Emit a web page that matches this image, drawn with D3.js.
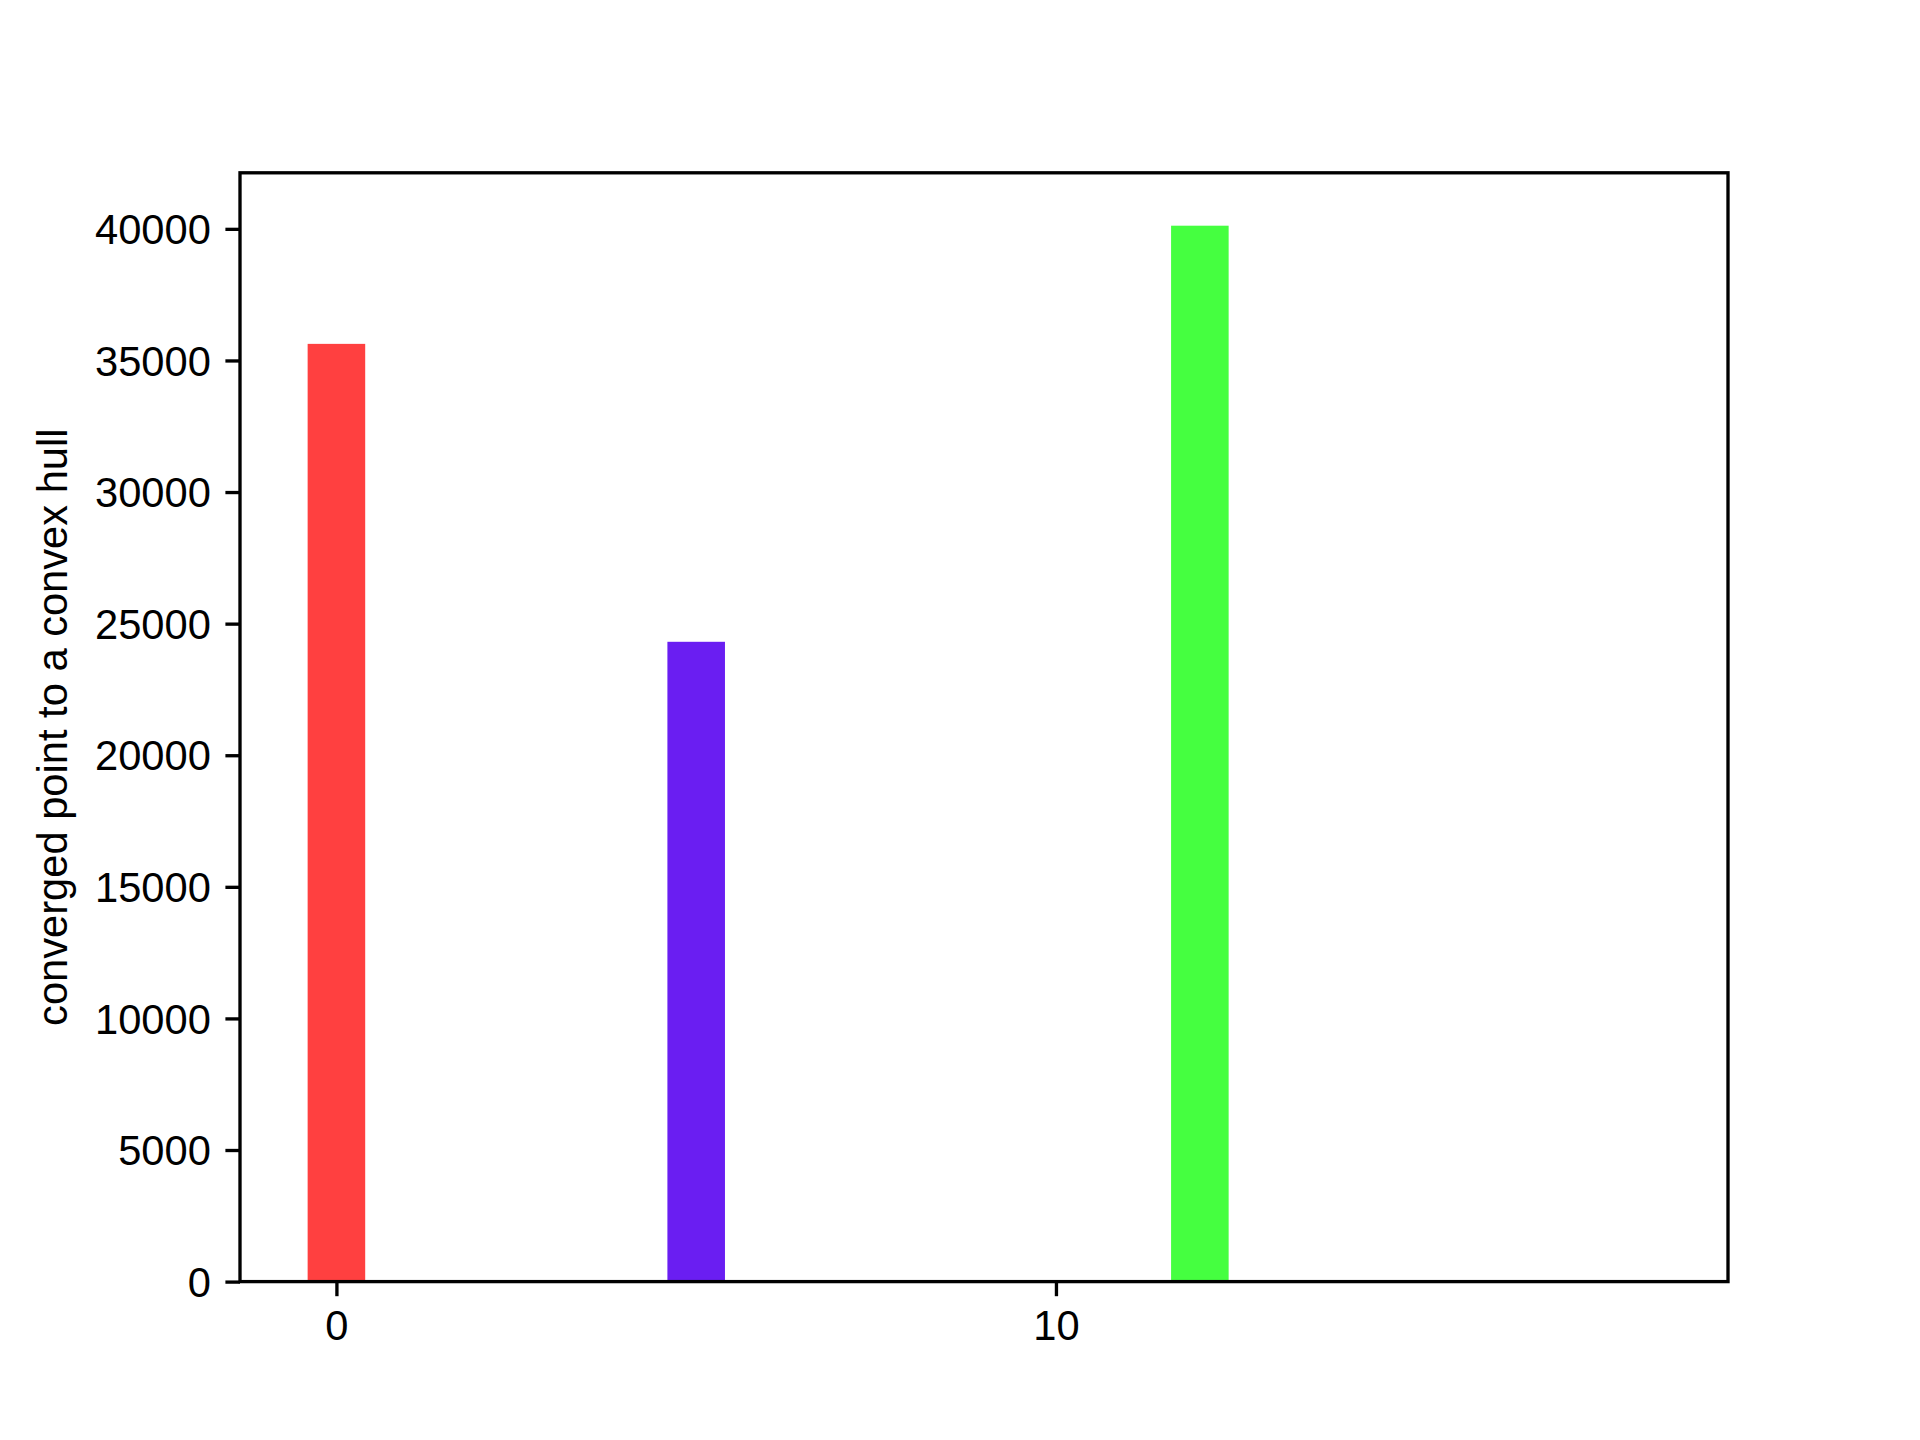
<!DOCTYPE html>
<html>
<head>
<meta charset="utf-8">
<script src="https://cdn.jsdelivr.net/npm/d3@7"></script>
<style>
  html, body { margin: 0; padding: 0; background: #fff; }
  svg { display: block; }
  text { font-family: "Liberation Sans", Arial, sans-serif; }
</style>
</head>
<body>
<svg id="chart" width="1920" height="1440"></svg>
<script>
// ---- data ----
const categories = [0, 5, 12];
const values = [35630, 24310, 40120];
const barColors = ["#ff4040", "#6a1ef2", "#45ff40"];
const xTicks = [0, 10];
const yTicks = [0, 5000, 10000, 15000, 20000, 25000, 30000, 35000, 40000];
const xDomain = [-1.34, 19.34];
const yDomain = [0, 42130];
const barWidth = 0.8;
const yLabel = "converged point to a convex hull";

(function () {
// ---- layout ----
const W = 1920, H = 1440;
const mLeft = 240, mRight = 1728, mTop = 172.8, mBottom = 1281.6;
const lw = 3.33;
const tickLen = 14.6, tickPad = 14.6;
const fontSize = 41.67;

const svg = d3.select("#chart");
svg.append("rect").attr("width", W).attr("height", H).attr("fill", "#fff");

const x = d3.scaleLinear().domain(xDomain).range([mLeft, mRight]);
const y = d3.scaleLinear().domain(yDomain).range([mBottom, mTop]);

// bars
svg.append("g").selectAll("rect")
  .data(categories.map((c, i) => ({c, v: values[i], col: barColors[i]})))
  .join("rect")
  .attr("x", d => x(d.c - barWidth / 2))
  .attr("width", d => x(d.c + barWidth / 2) - x(d.c - barWidth / 2))
  .attr("y", d => y(d.v))
  .attr("height", d => y(0) - y(d.v))
  .attr("fill", d => d.col);

// axes
const xAxis = d3.axisBottom(x).tickValues(xTicks).tickFormat(d3.format("d"))
  .tickSize(tickLen).tickPadding(tickPad);
const yAxis = d3.axisLeft(y).tickValues(yTicks).tickFormat(d3.format("d"))
  .tickSize(tickLen).tickPadding(tickPad);

const gx = svg.append("g").attr("transform", `translate(0,${mBottom})`).call(xAxis);
const gy = svg.append("g").attr("transform", `translate(${mLeft},0)`).call(yAxis);
[gx, gy].forEach(g => {
  g.select(".domain").remove();
  g.selectAll(".tick line").attr("stroke", "#000").attr("stroke-width", lw);
  g.selectAll(".tick text")
    .attr("fill", "#000")
    .style("font-size", fontSize + "px")
    .style("font-family", '"Liberation Sans", Arial, sans-serif');
});
gy.selectAll(".tick text").attr("dy", "0.35em");

// frame (spines)
svg.append("rect")
  .attr("x", mLeft).attr("y", mTop)
  .attr("width", mRight - mLeft).attr("height", mBottom - mTop)
  .attr("fill", "none").attr("stroke", "#000").attr("stroke-width", lw)
  .attr("stroke-linecap", "square");

// y label
svg.append("text")
  .attr("transform", `translate(67,${(mTop + mBottom) / 2}) rotate(-90)`)
  .attr("text-anchor", "middle")
  .style("font-size", fontSize + "px")
  .attr("fill", "#000")
  .text(yLabel);
})();
</script>
</body>
</html>
